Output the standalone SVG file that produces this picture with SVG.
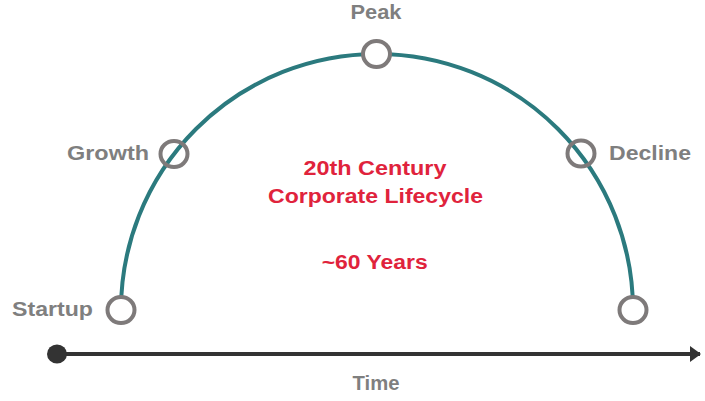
<svg xmlns="http://www.w3.org/2000/svg" width="705" height="401" viewBox="0 0 705 401">
<style>
text{font-family:"Liberation Sans",Arial,sans-serif;font-weight:bold;font-size:19.5px}
.lbl{fill:#7f7f7f}
.red{fill:#e0233c}
.ring{stroke:#7e7a7a;stroke-width:4}
.filled{fill:#ffffff}
.open{fill:none}
</style>
<defs>
<marker id="arrow" markerWidth="12" markerHeight="18" refX="10" refY="8" orient="auto" markerUnits="userSpaceOnUse" viewBox="0 0 12 18">
<path d="M0,0 L11,8 L0,16 Z" fill="#333333"/>
</marker>
</defs>
<rect width="705" height="401" fill="#ffffff"/>
<g id="connectors">
<path id="lifecycle-arc" d="M121,310 A256,256 0 0 1 633,310" fill="none" stroke="#2b7a7e" stroke-width="4"/>
<line id="timeline" x1="58" y1="354" x2="700" y2="354" stroke="#333333" stroke-width="4" marker-end="url(#arrow)"/>
</g>
<g id="time-origin"><ellipse cx="57" cy="354" rx="10" ry="9.5" fill="#333333"/></g>
<g id="startup"><ellipse class="ring filled" cx="121" cy="310" rx="13.5" ry="13"/><text class="lbl" x="12" y="316" textLength="81" lengthAdjust="spacingAndGlyphs">Startup</text></g>
<g id="growth"><ellipse class="ring open" cx="174" cy="154" rx="13.5" ry="13"/><text class="lbl" x="67" y="159.5" textLength="82" lengthAdjust="spacingAndGlyphs">Growth</text></g>
<g id="peak"><ellipse class="ring filled" cx="376.5" cy="54" rx="13.5" ry="13"/><text class="lbl" x="376" y="18.5" text-anchor="middle" textLength="51" lengthAdjust="spacingAndGlyphs">Peak</text></g>
<g id="decline"><ellipse class="ring open" cx="581" cy="153.5" rx="13.5" ry="13"/><text class="lbl" x="609" y="159.5" textLength="82" lengthAdjust="spacingAndGlyphs">Decline</text></g>
<g id="end"><ellipse class="ring filled" cx="633" cy="310" rx="13.5" ry="13"/></g>
<g id="center-label">
<text class="red" x="375" y="174.5" text-anchor="middle" textLength="143" lengthAdjust="spacingAndGlyphs">20th Century</text>
<text class="red" x="375.5" y="203" text-anchor="middle" textLength="215" lengthAdjust="spacingAndGlyphs">Corporate Lifecycle</text>
<text class="red" x="374.7" y="269" text-anchor="middle" textLength="106" lengthAdjust="spacingAndGlyphs">~60 Years</text>
</g>
<g id="time-label"><text class="lbl" x="376" y="389.5" text-anchor="middle" textLength="47" lengthAdjust="spacingAndGlyphs">Time</text></g>
</svg>
